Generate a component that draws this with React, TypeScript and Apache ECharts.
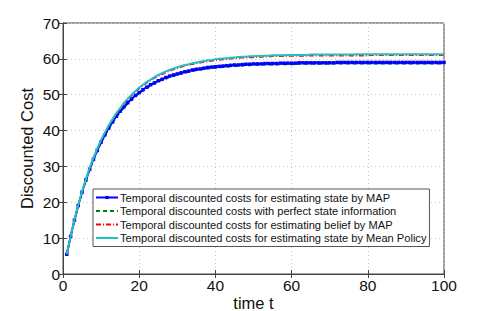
import React, { useEffect, useRef } from "react";
import * as echarts from "echarts";

const tValues: number[] = Array.from({ length: 100 }, (_, i) => i + 1);

const mapState: number[] = [
  5.5, 10.5, 15.0, 19.1, 22.8, 26.2, 29.2, 32.0, 34.5, 36.8,
  38.8, 40.7, 42.4, 44.0, 45.4, 46.6, 47.8, 48.8, 49.8, 50.6,
  51.4, 52.1, 52.8, 53.3, 53.9, 54.3, 54.8, 55.2, 55.5, 55.8,
  56.1, 56.4, 56.6, 56.9, 57.1, 57.2, 57.4, 57.6, 57.7, 57.8,
  57.9, 58.0, 58.1, 58.2, 58.3, 58.3, 58.4, 58.5, 58.5, 58.6,
  58.6, 58.6, 58.7, 58.7, 58.7, 58.7, 58.8, 58.8, 58.8, 58.8,
  58.8, 58.9, 58.9, 58.9, 58.9, 58.9, 58.9, 58.9, 58.9, 58.9,
  58.9, 59.0, 59.0, 59.0, 59.0, 59.0, 59.0, 59.0, 59.0, 59.0,
  59.0, 59.0, 59.0, 59.0, 59.0, 59.0, 59.0, 59.0, 59.0, 59.0,
  59.0, 59.0, 59.0, 59.0, 59.0, 59.0, 59.0, 59.0, 59.0, 59.0,
];

const perfectInfo: number[] = [
  5.5, 10.4, 14.9, 19.0, 22.7, 26.0, 29.1, 31.8, 34.3, 36.6,
  38.6, 40.5, 42.2, 43.7, 45.1, 46.4, 47.5, 48.6, 49.5, 50.4,
  51.1, 51.8, 52.5, 53.1, 53.6, 54.1, 54.5, 54.9, 55.2, 55.6,
  55.8, 56.1, 56.4, 56.6, 56.8, 57.0, 57.1, 57.3, 57.4, 57.5,
  57.6, 57.7, 57.8, 57.9, 58.0, 58.0, 58.1, 58.2, 58.2, 58.3,
  58.3, 58.3, 58.4, 58.4, 58.4, 58.4, 58.5, 58.5, 58.5, 58.5,
  58.5, 58.6, 58.6, 58.6, 58.6, 58.6, 58.6, 58.6, 58.6, 58.6,
  58.7, 58.7, 58.7, 58.7, 58.7, 58.7, 58.7, 58.7, 58.7, 58.7,
  58.7, 58.7, 58.7, 58.7, 58.7, 58.7, 58.7, 58.7, 58.7, 58.7,
  58.7, 58.7, 58.7, 58.7, 58.7, 58.7, 58.7, 58.7, 58.7, 58.7,
];

const beliefMap: number[] = [
  5.5, 10.5, 15.0, 19.1, 22.9, 26.3, 29.4, 32.2, 34.8, 37.2,
  39.3, 41.2, 43.0, 44.6, 46.1, 47.4, 48.6, 49.7, 50.8, 51.7,
  52.5, 53.3, 54.0, 54.6, 55.2, 55.7, 56.2, 56.6, 57.0, 57.4,
  57.7, 58.0, 58.3, 58.5, 58.7, 58.9, 59.1, 59.3, 59.4, 59.6,
  59.7, 59.8, 59.9, 60.0, 60.1, 60.2, 60.3, 60.3, 60.4, 60.4,
  60.5, 60.5, 60.6, 60.6, 60.7, 60.7, 60.7, 60.7, 60.8, 60.8,
  60.8, 60.8, 60.8, 60.8, 60.9, 60.9, 60.9, 60.9, 60.9, 60.9,
  60.9, 60.9, 60.9, 60.9, 60.9, 60.9, 60.9, 60.9, 60.9, 60.9,
  61.0, 61.0, 61.0, 61.0, 61.0, 61.0, 61.0, 61.0, 61.0, 61.0,
  61.0, 61.0, 61.0, 61.0, 61.0, 61.0, 61.0, 61.0, 61.0, 61.0,
];

const meanPolicy: number[] = [
  5.5, 10.5, 15.1, 19.2, 23.0, 26.4, 29.6, 32.4, 35.0, 37.4,
  39.5, 41.5, 43.2, 44.9, 46.3, 47.7, 48.9, 50.0, 51.0, 52.0,
  52.8, 53.6, 54.2, 54.9, 55.5, 56.0, 56.5, 56.9, 57.3, 57.7,
  58.0, 58.3, 58.5, 58.8, 59.0, 59.2, 59.4, 59.6, 59.7, 59.9,
  60.0, 60.1, 60.2, 60.3, 60.4, 60.5, 60.6, 60.6, 60.7, 60.7,
  60.8, 60.8, 60.9, 60.9, 61.0, 61.0, 61.0, 61.0, 61.1, 61.1,
  61.1, 61.1, 61.1, 61.1, 61.2, 61.2, 61.2, 61.2, 61.2, 61.2,
  61.2, 61.2, 61.2, 61.2, 61.2, 61.2, 61.3, 61.3, 61.3, 61.3,
  61.3, 61.3, 61.3, 61.3, 61.3, 61.3, 61.3, 61.3, 61.3, 61.3,
  61.3, 61.3, 61.3, 61.3, 61.3, 61.3, 61.3, 61.3, 61.3, 61.3,
];

const seriesNames: string[] = [
  "Temporal discounted costs for estimating state by MAP",
  "Temporal discounted costs with perfect state information",
  "Temporal discounted costs for estimating belief by MAP",
  "Temporal discounted costs for estimating state by Mean Policy",
];

const pair = (ys: number[]) => ys.map((y, i) => [tValues[i], y]);

export default function App() {
  const ref = useRef<HTMLDivElement>(null);
  useEffect(() => {
    if (!ref.current) return;
    const chart = echarts.init(ref.current, undefined, { renderer: "svg" });
    const font = "Liberation Sans, Arial, sans-serif";
    const gridLine = { show: true, lineStyle: { color: "#c8c8c8", type: [1, 3] as any, width: 1 } };
    const hiddenSym = { opacity: 0 };
    chart.setOption({
      animation: false,
      backgroundColor: "#ffffff",
      grid: {
        left: 63, right: 47, top: 23, bottom: 37,
        outerBoundsMode: "none",
        containLabel: false,
        show: true, borderColor: "#444", borderWidth: 1, backgroundColor: "transparent",
      },
      legend: {
        orient: "vertical",
        left: 93,
        top: 189,
        backgroundColor: "#ffffff",
        borderColor: "#555",
        borderWidth: 1,
        borderRadius: 0,
        padding: [3, 3, 3, 2],
        itemGap: 2.5,
        itemWidth: 22,
        itemHeight: 4,
        textStyle: { fontFamily: font, fontSize: 11.1, color: "#111", padding: [0, 0, 0, -3] },
        data: [
          { name: seriesNames[0] },
          { name: seriesNames[1], itemStyle: hiddenSym },
          { name: seriesNames[2], itemStyle: hiddenSym },
          { name: seriesNames[3], itemStyle: hiddenSym },
        ],
      },
      xAxis: [
        {
          type: "value",
          min: 0,
          max: 100,
          interval: 20,
          name: "time t",
          nameLocation: "middle",
          nameGap: 20,
          nameMoveOverlap: false,
          nameTextStyle: { fontFamily: font, fontSize: 16.5, color: "#111" },
          axisLine: { show: true, lineStyle: { color: "#444" } },
          axisTick: { show: true, inside: true, length: 4, lineStyle: { color: "#444" } },
          axisLabel: { fontFamily: font, fontSize: 15.5, color: "#111", margin: 3 },
          splitLine: gridLine,
        },
        {
          type: "value",
          position: "top",
          min: 0,
          max: 100,
          interval: 20,
          axisLine: { show: true, lineStyle: { color: "#444" } },
          axisTick: { show: true, inside: true, length: 4, lineStyle: { color: "#444" } },
          axisLabel: { show: false },
          splitLine: { show: false },
        },
      ],
      yAxis: [
        {
          type: "value",
          min: 0,
          max: 70,
          interval: 10,
          name: "Discounted Cost",
          nameLocation: "middle",
          nameGap: 28,
          nameMoveOverlap: false,
          nameTextStyle: { fontFamily: font, fontSize: 16.5, color: "#111" },
          axisLine: { show: true, lineStyle: { color: "#444" } },
          axisTick: { show: true, inside: true, length: 4, lineStyle: { color: "#444" } },
          axisLabel: { fontFamily: font, fontSize: 15.5, color: "#111", margin: 3 },
          splitLine: gridLine,
        },
        {
          type: "value",
          position: "right",
          min: 0,
          max: 70,
          interval: 10,
          axisLine: { show: true, lineStyle: { color: "#444" } },
          axisTick: { show: true, inside: true, length: 4, lineStyle: { color: "#444" } },
          axisLabel: { show: false },
          splitLine: { show: false },
        },
      ],
      series: [
        {
          name: seriesNames[0],
          type: "line",
          data: pair(mapState),
          symbol: "rect",
          symbolSize: 3.5,
          showSymbol: true,
          itemStyle: { color: "#0000ff" },
          lineStyle: { color: "#0000ff", width: 2 },
          z: 3,
        },
        {
          name: seriesNames[1],
          type: "line",
          data: pair(perfectInfo),
          symbol: "none",
          itemStyle: { color: "#008000" },
          lineStyle: { color: "#008000", width: 1.8, type: [4, 3] },
          z: 2,
        },
        {
          name: seriesNames[2],
          type: "line",
          data: pair(beliefMap),
          symbol: "none",
          itemStyle: { color: "#ff0000" },
          lineStyle: { color: "#ff0000", width: 1.5, type: [5, 2, 1, 2] },
          z: 4,
        },
        {
          name: seriesNames[3],
          type: "line",
          data: pair(meanPolicy),
          symbol: "none",
          itemStyle: { color: "#1fc2c2" },
          lineStyle: { color: "#1fc2c2", width: 2 },
          z: 5,
        },
      ],
    });
    return () => chart.dispose();
  }, []);
  return <div ref={ref} style={{ width: 491, height: 311, position: "absolute", left: 0, top: 0 }} />;
}
